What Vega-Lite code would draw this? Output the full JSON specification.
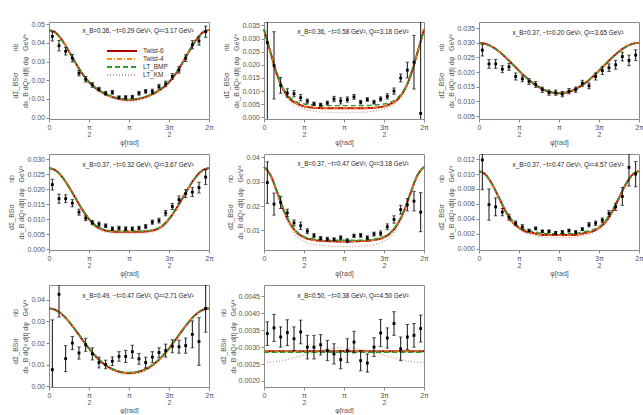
{
"$schema":"https://vega.github.io/schema/vega-lite/v6.json",
"background":"white",
"padding":{"left":7,"top":19,"right":0,"bottom":0},
"datasets":{
"curves":[
{"p":1,"x":0,"t6":0.04695,"bmp":0.0469,"km":0.04695},{"p":1,"x":0.2618,"t6":0.04544,"bmp":0.0452,"km":0.04543},{"p":1,"x":0.5236,"t6":0.04127,"bmp":0.041,"km":0.04122},{"p":1,"x":0.7854,"t6":0.03544,"bmp":0.0352,"km":0.03532},{"p":1,"x":1.0472,"t6":0.02918,"bmp":0.0292,"km":0.02898},{"p":1,"x":1.309,"t6":0.0235,"bmp":0.0237,"km":0.0232},{"p":1,"x":1.5708,"t6":0.019,"bmp":0.0193,"km":0.0186},{"p":1,"x":1.8326,"t6":0.01573,"bmp":0.016,"km":0.01523},{"p":1,"x":2.0944,"t6":0.01343,"bmp":0.0137,"km":0.01283},{"p":1,"x":2.3562,"t6":0.01176,"bmp":0.012,"km":0.01108},{"p":1,"x":2.618,"t6":0.01053,"bmp":0.0108,"km":0.00978},{"p":1,"x":2.8798,"t6":0.00973,"bmp":0.01,"km":0.00894},{"p":1,"x":3.1416,"t6":0.00945,"bmp":0.0097,"km":0.00865},{"p":1,"x":3.4034,"t6":0.00973,"bmp":0.01,"km":0.00894},{"p":1,"x":3.6652,"t6":0.01053,"bmp":0.0108,"km":0.00978},{"p":1,"x":3.927,"t6":0.01176,"bmp":0.012,"km":0.01108},{"p":1,"x":4.1888,"t6":0.01343,"bmp":0.0137,"km":0.01283},{"p":1,"x":4.4506,"t6":0.01573,"bmp":0.016,"km":0.01523},{"p":1,"x":4.7124,"t6":0.019,"bmp":0.0193,"km":0.0186},{"p":1,"x":4.9742,"t6":0.0235,"bmp":0.0237,"km":0.0232},{"p":1,"x":5.236,"t6":0.02918,"bmp":0.0292,"km":0.02898},{"p":1,"x":5.4978,"t6":0.03544,"bmp":0.0352,"km":0.03532},{"p":1,"x":5.7596,"t6":0.04127,"bmp":0.041,"km":0.04122},{"p":1,"x":6.0214,"t6":0.04544,"bmp":0.0452,"km":0.04543},{"p":1,"x":6.2832,"t6":0.04695,"bmp":0.0469,"km":0.04695},
{"p":2,"x":0,"t6":0.0335,"bmp":0.0335,"km":0.0335},{"p":2,"x":0.2618,"t6":0.0245,"bmp":0.0245,"km":0.0243},{"p":2,"x":0.5236,"t6":0.016,"bmp":0.0162,"km":0.0155},{"p":2,"x":0.7854,"t6":0.0102,"bmp":0.0106,"km":0.0095},{"p":2,"x":1.0472,"t6":0.0068,"bmp":0.0074,"km":0.006},{"p":2,"x":1.309,"t6":0.0052,"bmp":0.0058,"km":0.0042},{"p":2,"x":1.5708,"t6":0.0042,"bmp":0.0051,"km":0.0032},{"p":2,"x":1.8326,"t6":0.0038,"bmp":0.0048,"km":0.0026},{"p":2,"x":2.0944,"t6":0.0036,"bmp":0.0046,"km":0.0022},{"p":2,"x":2.3562,"t6":0.0035,"bmp":0.0045,"km":0.002},{"p":2,"x":2.618,"t6":0.0035,"bmp":0.0045,"km":0.0019},{"p":2,"x":2.8798,"t6":0.0035,"bmp":0.0045,"km":0.0019},{"p":2,"x":3.1416,"t6":0.0035,"bmp":0.0045,"km":0.0019},{"p":2,"x":3.4034,"t6":0.0035,"bmp":0.0045,"km":0.0019},{"p":2,"x":3.6652,"t6":0.0035,"bmp":0.0045,"km":0.0019},{"p":2,"x":3.927,"t6":0.0035,"bmp":0.0045,"km":0.002},{"p":2,"x":4.1888,"t6":0.0036,"bmp":0.0046,"km":0.0022},{"p":2,"x":4.4506,"t6":0.0038,"bmp":0.0048,"km":0.0026},{"p":2,"x":4.7124,"t6":0.0042,"bmp":0.0051,"km":0.0032},{"p":2,"x":4.9742,"t6":0.0052,"bmp":0.0058,"km":0.0042},{"p":2,"x":5.236,"t6":0.0068,"bmp":0.0074,"km":0.006},{"p":2,"x":5.4978,"t6":0.0102,"bmp":0.0106,"km":0.0095},{"p":2,"x":5.7596,"t6":0.016,"bmp":0.0162,"km":0.0155},{"p":2,"x":6.0214,"t6":0.0245,"bmp":0.0245,"km":0.0243},{"p":2,"x":6.2832,"t6":0.0335,"bmp":0.0335,"km":0.0335},
{"p":3,"x":0,"t6":0.03,"bmp":0.0299,"km":0.03},{"p":3,"x":0.2618,"t6":0.02965,"bmp":0.02955,"km":0.02964},{"p":3,"x":0.5236,"t6":0.02862,"bmp":0.02855,"km":0.02858},{"p":3,"x":0.7854,"t6":0.02703,"bmp":0.027,"km":0.02695},{"p":3,"x":1.0472,"t6":0.02503,"bmp":0.025,"km":0.0249},{"p":3,"x":1.309,"t6":0.02279,"bmp":0.0228,"km":0.0226},{"p":3,"x":1.5708,"t6":0.0205,"bmp":0.0205,"km":0.0203},{"p":3,"x":1.8326,"t6":0.01833,"bmp":0.01835,"km":0.01808},{"p":3,"x":2.0944,"t6":0.01643,"bmp":0.01645,"km":0.01613},{"p":3,"x":2.3562,"t6":0.01487,"bmp":0.0149,"km":0.01453},{"p":3,"x":2.618,"t6":0.01373,"bmp":0.01378,"km":0.01335},{"p":3,"x":2.8798,"t6":0.01303,"bmp":0.01308,"km":0.01263},{"p":3,"x":3.1416,"t6":0.0128,"bmp":0.01285,"km":0.0124},{"p":3,"x":3.4034,"t6":0.01303,"bmp":0.01308,"km":0.01263},{"p":3,"x":3.6652,"t6":0.01373,"bmp":0.01378,"km":0.01335},{"p":3,"x":3.927,"t6":0.01487,"bmp":0.0149,"km":0.01453},{"p":3,"x":4.1888,"t6":0.01643,"bmp":0.01645,"km":0.01613},{"p":3,"x":4.4506,"t6":0.01833,"bmp":0.01835,"km":0.01808},{"p":3,"x":4.7124,"t6":0.0205,"bmp":0.0205,"km":0.0203},{"p":3,"x":4.9742,"t6":0.02279,"bmp":0.0228,"km":0.0226},{"p":3,"x":5.236,"t6":0.02503,"bmp":0.025,"km":0.0249},{"p":3,"x":5.4978,"t6":0.02703,"bmp":0.027,"km":0.02695},{"p":3,"x":5.7596,"t6":0.02862,"bmp":0.02855,"km":0.02858},{"p":3,"x":6.0214,"t6":0.02965,"bmp":0.02955,"km":0.02964},{"p":3,"x":6.2832,"t6":0.03,"bmp":0.0299,"km":0.03},
{"p":4,"x":0,"t6":0.027,"bmp":0.0269,"km":0.027},{"p":4,"x":0.2618,"t6":0.02621,"bmp":0.0261,"km":0.0262},{"p":4,"x":0.5236,"t6":0.02398,"bmp":0.0239,"km":0.0239},{"p":4,"x":0.7854,"t6":0.0207,"bmp":0.0207,"km":0.0206},{"p":4,"x":1.0472,"t6":0.0169,"bmp":0.017,"km":0.0167},{"p":4,"x":1.309,"t6":0.01317,"bmp":0.0133,"km":0.0129},{"p":4,"x":1.5708,"t6":0.01,"bmp":0.0102,"km":0.0097},{"p":4,"x":1.8326,"t6":0.00769,"bmp":0.0079,"km":0.0073},{"p":4,"x":2.0944,"t6":0.0065,"bmp":0.0067,"km":0.006},{"p":4,"x":2.3562,"t6":0.006,"bmp":0.0062,"km":0.0055},{"p":4,"x":2.618,"t6":0.0058,"bmp":0.006,"km":0.0053},{"p":4,"x":2.8798,"t6":0.0058,"bmp":0.006,"km":0.0052},{"p":4,"x":3.1416,"t6":0.0058,"bmp":0.006,"km":0.0052},{"p":4,"x":3.4034,"t6":0.0058,"bmp":0.006,"km":0.0052},{"p":4,"x":3.6652,"t6":0.0058,"bmp":0.006,"km":0.0053},{"p":4,"x":3.927,"t6":0.006,"bmp":0.0062,"km":0.0055},{"p":4,"x":4.1888,"t6":0.0065,"bmp":0.0067,"km":0.006},{"p":4,"x":4.4506,"t6":0.00769,"bmp":0.0079,"km":0.0073},{"p":4,"x":4.7124,"t6":0.01,"bmp":0.0102,"km":0.0097},{"p":4,"x":4.9742,"t6":0.01317,"bmp":0.0133,"km":0.0129},{"p":4,"x":5.236,"t6":0.0169,"bmp":0.017,"km":0.0167},{"p":4,"x":5.4978,"t6":0.0207,"bmp":0.0207,"km":0.0206},{"p":4,"x":5.7596,"t6":0.02398,"bmp":0.0239,"km":0.0239},{"p":4,"x":6.0214,"t6":0.02621,"bmp":0.0261,"km":0.0262},{"p":4,"x":6.2832,"t6":0.027,"bmp":0.0269,"km":0.027},
{"p":5,"x":0,"t6":0.036,"bmp":0.036,"km":0.036},{"p":5,"x":0.2618,"t6":0.0325,"bmp":0.0326,"km":0.0323},{"p":5,"x":0.5236,"t6":0.0255,"bmp":0.0257,"km":0.025},{"p":5,"x":0.7854,"t6":0.018,"bmp":0.0183,"km":0.017},{"p":5,"x":1.0472,"t6":0.0125,"bmp":0.0128,"km":0.0112},{"p":5,"x":1.309,"t6":0.009,"bmp":0.0094,"km":0.0075},{"p":5,"x":1.5708,"t6":0.0072,"bmp":0.0075,"km":0.0056},{"p":5,"x":1.8326,"t6":0.0063,"bmp":0.0067,"km":0.0045},{"p":5,"x":2.0944,"t6":0.0059,"bmp":0.0063,"km":0.004},{"p":5,"x":2.3562,"t6":0.0057,"bmp":0.0061,"km":0.0037},{"p":5,"x":2.618,"t6":0.0056,"bmp":0.006,"km":0.0035},{"p":5,"x":2.8798,"t6":0.0055,"bmp":0.006,"km":0.0034},{"p":5,"x":3.1416,"t6":0.0055,"bmp":0.006,"km":0.0034},{"p":5,"x":3.4034,"t6":0.0055,"bmp":0.006,"km":0.0034},{"p":5,"x":3.6652,"t6":0.0056,"bmp":0.006,"km":0.0035},{"p":5,"x":3.927,"t6":0.0057,"bmp":0.0061,"km":0.0037},{"p":5,"x":4.1888,"t6":0.0059,"bmp":0.0063,"km":0.004},{"p":5,"x":4.4506,"t6":0.0063,"bmp":0.0067,"km":0.0045},{"p":5,"x":4.7124,"t6":0.0072,"bmp":0.0075,"km":0.0056},{"p":5,"x":4.9742,"t6":0.009,"bmp":0.0094,"km":0.0075},{"p":5,"x":5.236,"t6":0.0125,"bmp":0.0128,"km":0.0112},{"p":5,"x":5.4978,"t6":0.018,"bmp":0.0183,"km":0.017},{"p":5,"x":5.7596,"t6":0.0255,"bmp":0.0257,"km":0.025},{"p":5,"x":6.0214,"t6":0.0325,"bmp":0.0326,"km":0.0323},{"p":5,"x":6.2832,"t6":0.036,"bmp":0.036,"km":0.036},
{"p":6,"x":0,"t6":0.0104,"bmp":0.0104,"km":0.0104},{"p":6,"x":0.2618,"t6":0.0099,"bmp":0.0099,"km":0.0099},{"p":6,"x":0.5236,"t6":0.0086,"bmp":0.0086,"km":0.0085},{"p":6,"x":0.7854,"t6":0.0068,"bmp":0.0069,"km":0.0067},{"p":6,"x":1.0472,"t6":0.005,"bmp":0.0051,"km":0.0048},{"p":6,"x":1.309,"t6":0.0036,"bmp":0.0038,"km":0.0034},{"p":6,"x":1.5708,"t6":0.0028,"bmp":0.0029,"km":0.0026},{"p":6,"x":1.8326,"t6":0.0023,"bmp":0.0025,"km":0.0021},{"p":6,"x":2.0944,"t6":0.0021,"bmp":0.0023,"km":0.0018},{"p":6,"x":2.3562,"t6":0.0019,"bmp":0.0021,"km":0.0016},{"p":6,"x":2.618,"t6":0.0018,"bmp":0.002,"km":0.0015},{"p":6,"x":2.8798,"t6":0.0018,"bmp":0.002,"km":0.0015},{"p":6,"x":3.1416,"t6":0.0018,"bmp":0.002,"km":0.0015},{"p":6,"x":3.4034,"t6":0.0018,"bmp":0.002,"km":0.0015},{"p":6,"x":3.6652,"t6":0.0018,"bmp":0.002,"km":0.0015},{"p":6,"x":3.927,"t6":0.0019,"bmp":0.0021,"km":0.0016},{"p":6,"x":4.1888,"t6":0.0021,"bmp":0.0023,"km":0.0018},{"p":6,"x":4.4506,"t6":0.0023,"bmp":0.0025,"km":0.0021},{"p":6,"x":4.7124,"t6":0.0028,"bmp":0.0029,"km":0.0026},{"p":6,"x":4.9742,"t6":0.0036,"bmp":0.0038,"km":0.0034},{"p":6,"x":5.236,"t6":0.005,"bmp":0.0051,"km":0.0048},{"p":6,"x":5.4978,"t6":0.0068,"bmp":0.0069,"km":0.0067},{"p":6,"x":5.7596,"t6":0.0086,"bmp":0.0086,"km":0.0085},{"p":6,"x":6.0214,"t6":0.0099,"bmp":0.0099,"km":0.0099},{"p":6,"x":6.2832,"t6":0.0104,"bmp":0.0104,"km":0.0104},
{"p":7,"x":0,"t6":0.036,"bmp":0.0359,"km":0.036},{"p":7,"x":0.2618,"t6":0.03525,"bmp":0.0352,"km":0.03524},{"p":7,"x":0.5236,"t6":0.0331,"bmp":0.0331,"km":0.03305},{"p":7,"x":0.7854,"t6":0.02984,"bmp":0.0299,"km":0.02974},{"p":7,"x":1.0472,"t6":0.02585,"bmp":0.0259,"km":0.02568},{"p":7,"x":1.309,"t6":0.0216,"bmp":0.0217,"km":0.02134},{"p":7,"x":1.5708,"t6":0.0175,"bmp":0.0176,"km":0.0172},{"p":7,"x":1.8326,"t6":0.01389,"bmp":0.014,"km":0.01345},{"p":7,"x":2.0944,"t6":0.01095,"bmp":0.0111,"km":0.01043},{"p":7,"x":2.3562,"t6":0.00876,"bmp":0.0089,"km":0.00816},{"p":7,"x":2.618,"t6":0.0073,"bmp":0.0075,"km":0.00665},{"p":7,"x":2.8798,"t6":0.00647,"bmp":0.0066,"km":0.00578},{"p":7,"x":3.1416,"t6":0.0062,"bmp":0.0064,"km":0.0055},{"p":7,"x":3.4034,"t6":0.00647,"bmp":0.0066,"km":0.00578},{"p":7,"x":3.6652,"t6":0.0073,"bmp":0.0075,"km":0.00665},{"p":7,"x":3.927,"t6":0.00876,"bmp":0.0089,"km":0.00816},{"p":7,"x":4.1888,"t6":0.01095,"bmp":0.0111,"km":0.01043},{"p":7,"x":4.4506,"t6":0.01389,"bmp":0.014,"km":0.01345},{"p":7,"x":4.7124,"t6":0.0175,"bmp":0.0176,"km":0.0172},{"p":7,"x":4.9742,"t6":0.0216,"bmp":0.0217,"km":0.02134},{"p":7,"x":5.236,"t6":0.02585,"bmp":0.0259,"km":0.02568},{"p":7,"x":5.4978,"t6":0.02984,"bmp":0.0299,"km":0.02974},{"p":7,"x":5.7596,"t6":0.0331,"bmp":0.0331,"km":0.03305},{"p":7,"x":6.0214,"t6":0.03525,"bmp":0.0352,"km":0.03524},{"p":7,"x":6.2832,"t6":0.036,"bmp":0.0359,"km":0.036},
{"p":8,"x":0,"t6":0.00288,"bmp":0.00285,"km":0.00255},{"p":8,"x":0.2618,"t6":0.00288,"bmp":0.00285,"km":0.002557},{"p":8,"x":0.5236,"t6":0.00288,"bmp":0.00285,"km":0.002579},{"p":8,"x":0.7854,"t6":0.00288,"bmp":0.00285,"km":0.002613},{"p":8,"x":1.0472,"t6":0.00288,"bmp":0.00285,"km":0.002658},{"p":8,"x":1.309,"t6":0.00288,"bmp":0.00285,"km":0.002709},{"p":8,"x":1.5708,"t6":0.00288,"bmp":0.00285,"km":0.002765},{"p":8,"x":1.8326,"t6":0.00288,"bmp":0.00285,"km":0.002821},{"p":8,"x":2.0944,"t6":0.00288,"bmp":0.00285,"km":0.002873},{"p":8,"x":2.3562,"t6":0.00288,"bmp":0.00285,"km":0.002917},{"p":8,"x":2.618,"t6":0.00288,"bmp":0.00285,"km":0.002951},{"p":8,"x":2.8798,"t6":0.00288,"bmp":0.00285,"km":0.002973},{"p":8,"x":3.1416,"t6":0.00288,"bmp":0.00285,"km":0.00298},{"p":8,"x":3.4034,"t6":0.00288,"bmp":0.00285,"km":0.002973},{"p":8,"x":3.6652,"t6":0.00288,"bmp":0.00285,"km":0.002951},{"p":8,"x":3.927,"t6":0.00288,"bmp":0.00285,"km":0.002917},{"p":8,"x":4.1888,"t6":0.00288,"bmp":0.00285,"km":0.002873},{"p":8,"x":4.4506,"t6":0.00288,"bmp":0.00285,"km":0.002821},{"p":8,"x":4.7124,"t6":0.00288,"bmp":0.00285,"km":0.002765},{"p":8,"x":4.9742,"t6":0.00288,"bmp":0.00285,"km":0.002709},{"p":8,"x":5.236,"t6":0.00288,"bmp":0.00285,"km":0.002658},{"p":8,"x":5.4978,"t6":0.00288,"bmp":0.00285,"km":0.002613},{"p":8,"x":5.7596,"t6":0.00288,"bmp":0.00285,"km":0.002579},{"p":8,"x":6.0214,"t6":0.00288,"bmp":0.00285,"km":0.002557},{"p":8,"x":6.2832,"t6":0.00288,"bmp":0.00285,"km":0.00255}
],
"pts":[
{"p":1,"x":0.131,"v":0.0435,"e":0.0025},{"p":1,"x":0.393,"v":0.0385,"e":0.0028},{"p":1,"x":0.654,"v":0.0355,"e":0.002},{"p":1,"x":0.916,"v":0.0318,"e":0.002},{"p":1,"x":1.178,"v":0.0238,"e":0.0015},{"p":1,"x":1.44,"v":0.0205,"e":0.0015},{"p":1,"x":1.702,"v":0.0175,"e":0.0013},{"p":1,"x":1.963,"v":0.0152,"e":0.001},{"p":1,"x":2.225,"v":0.013,"e":0.001},{"p":1,"x":2.487,"v":0.0135,"e":0.001},{"p":1,"x":2.749,"v":0.0108,"e":0.0008},{"p":1,"x":3.011,"v":0.0108,"e":0.0009},{"p":1,"x":3.272,"v":0.011,"e":0.0009},{"p":1,"x":3.534,"v":0.013,"e":0.001},{"p":1,"x":3.796,"v":0.014,"e":0.001},{"p":1,"x":4.058,"v":0.014,"e":0.0012},{"p":1,"x":4.32,"v":0.0165,"e":0.0013},{"p":1,"x":4.581,"v":0.018,"e":0.0015},{"p":1,"x":4.843,"v":0.022,"e":0.0015},{"p":1,"x":5.105,"v":0.0255,"e":0.0017},{"p":1,"x":5.367,"v":0.0318,"e":0.0018},{"p":1,"x":5.629,"v":0.039,"e":0.0022},{"p":1,"x":5.89,"v":0.041,"e":0.0022},{"p":1,"x":6.152,"v":0.046,"e":0.003},
{"p":2,"x":0.131,"v":0.0285,"e":0.04},{"p":2,"x":0.393,"v":0.0198,"e":0.0128},{"p":2,"x":0.654,"v":0.0122,"e":0.003},{"p":2,"x":0.916,"v":0.0093,"e":0.0016},{"p":2,"x":1.178,"v":0.009,"e":0.0012},{"p":2,"x":1.44,"v":0.0075,"e":0.0012},{"p":2,"x":1.702,"v":0.0062,"e":0.0008},{"p":2,"x":1.963,"v":0.0052,"e":0.0006},{"p":2,"x":2.225,"v":0.0048,"e":0.0006},{"p":2,"x":2.487,"v":0.0055,"e":0.0007},{"p":2,"x":2.749,"v":0.007,"e":0.001},{"p":2,"x":3.011,"v":0.0063,"e":0.0012},{"p":2,"x":3.272,"v":0.0068,"e":0.001},{"p":2,"x":3.534,"v":0.0078,"e":0.0009},{"p":2,"x":3.796,"v":0.0058,"e":0.0007},{"p":2,"x":4.058,"v":0.0068,"e":0.0007},{"p":2,"x":4.32,"v":0.0058,"e":0.0007},{"p":2,"x":4.581,"v":0.007,"e":0.0008},{"p":2,"x":4.843,"v":0.008,"e":0.001},{"p":2,"x":5.105,"v":0.01,"e":0.0012},{"p":2,"x":5.367,"v":0.015,"e":0.0015},{"p":2,"x":5.629,"v":0.018,"e":0.003},{"p":2,"x":5.89,"v":0.021,"e":0.0102},{"p":2,"x":6.152,"v":0.0015,"e":0.04},
{"p":3,"x":0.131,"v":0.0275,"e":0.002},{"p":3,"x":0.393,"v":0.0228,"e":0.0015},{"p":3,"x":0.654,"v":0.0228,"e":0.0015},{"p":3,"x":0.916,"v":0.021,"e":0.0012},{"p":3,"x":1.178,"v":0.0218,"e":0.0012},{"p":3,"x":1.44,"v":0.0185,"e":0.0012},{"p":3,"x":1.702,"v":0.0177,"e":0.001},{"p":3,"x":1.963,"v":0.0168,"e":0.001},{"p":3,"x":2.225,"v":0.0158,"e":0.001},{"p":3,"x":2.487,"v":0.014,"e":0.0009},{"p":3,"x":2.749,"v":0.013,"e":0.0009},{"p":3,"x":3.011,"v":0.013,"e":0.0009},{"p":3,"x":3.272,"v":0.0125,"e":0.0009},{"p":3,"x":3.534,"v":0.0135,"e":0.0009},{"p":3,"x":3.796,"v":0.014,"e":0.0009},{"p":3,"x":4.058,"v":0.0162,"e":0.001},{"p":3,"x":4.32,"v":0.0153,"e":0.001},{"p":3,"x":4.581,"v":0.0185,"e":0.0012},{"p":3,"x":4.843,"v":0.0205,"e":0.0013},{"p":3,"x":5.105,"v":0.0215,"e":0.0013},{"p":3,"x":5.367,"v":0.0225,"e":0.0015},{"p":3,"x":5.629,"v":0.0253,"e":0.0015},{"p":3,"x":5.89,"v":0.024,"e":0.0018},{"p":3,"x":6.152,"v":0.0258,"e":0.0018},
{"p":4,"x":0.131,"v":0.0215,"e":0.0018},{"p":4,"x":0.393,"v":0.0168,"e":0.0015},{"p":4,"x":0.654,"v":0.0168,"e":0.0013},{"p":4,"x":0.916,"v":0.0153,"e":0.0012},{"p":4,"x":1.178,"v":0.0123,"e":0.001},{"p":4,"x":1.44,"v":0.0103,"e":0.0008},{"p":4,"x":1.702,"v":0.0088,"e":0.0007},{"p":4,"x":1.963,"v":0.0083,"e":0.0007},{"p":4,"x":2.225,"v":0.0078,"e":0.0006},{"p":4,"x":2.487,"v":0.0068,"e":0.0006},{"p":4,"x":2.749,"v":0.007,"e":0.0006},{"p":4,"x":3.011,"v":0.0068,"e":0.0006},{"p":4,"x":3.272,"v":0.0068,"e":0.0006},{"p":4,"x":3.534,"v":0.007,"e":0.0006},{"p":4,"x":3.796,"v":0.0075,"e":0.0007},{"p":4,"x":4.058,"v":0.009,"e":0.0007},{"p":4,"x":4.32,"v":0.0095,"e":0.0008},{"p":4,"x":4.581,"v":0.012,"e":0.0009},{"p":4,"x":4.843,"v":0.0142,"e":0.001},{"p":4,"x":5.105,"v":0.0165,"e":0.0012},{"p":4,"x":5.367,"v":0.0185,"e":0.0013},{"p":4,"x":5.629,"v":0.019,"e":0.0015},{"p":4,"x":5.89,"v":0.0205,"e":0.0018},{"p":4,"x":6.152,"v":0.024,"e":0.0025},
{"p":5,"x":0.131,"v":0.0296,"e":0.0085},{"p":5,"x":0.393,"v":0.0208,"e":0.0045},{"p":5,"x":0.654,"v":0.0215,"e":0.0025},{"p":5,"x":0.916,"v":0.0172,"e":0.0015},{"p":5,"x":1.178,"v":0.0131,"e":0.0012},{"p":5,"x":1.44,"v":0.0119,"e":0.0015},{"p":5,"x":1.702,"v":0.0097,"e":0.001},{"p":5,"x":1.963,"v":0.0079,"e":0.0008},{"p":5,"x":2.225,"v":0.0068,"e":0.0007},{"p":5,"x":2.487,"v":0.0065,"e":0.0007},{"p":5,"x":2.749,"v":0.0063,"e":0.0007},{"p":5,"x":3.011,"v":0.007,"e":0.0008},{"p":5,"x":3.272,"v":0.0058,"e":0.0008},{"p":5,"x":3.534,"v":0.0078,"e":0.0007},{"p":5,"x":3.796,"v":0.008,"e":0.0008},{"p":5,"x":4.058,"v":0.007,"e":0.0008},{"p":5,"x":4.32,"v":0.0085,"e":0.0008},{"p":5,"x":4.581,"v":0.0088,"e":0.001},{"p":5,"x":4.843,"v":0.0115,"e":0.0012},{"p":5,"x":5.105,"v":0.0145,"e":0.0015},{"p":5,"x":5.367,"v":0.0185,"e":0.0018},{"p":5,"x":5.629,"v":0.0205,"e":0.0025},{"p":5,"x":5.89,"v":0.022,"e":0.004},{"p":5,"x":6.152,"v":0.0175,"e":0.008},
{"p":6,"x":0.131,"v":0.0119,"e":0.004},{"p":6,"x":0.393,"v":0.0059,"e":0.0021},{"p":6,"x":0.654,"v":0.0056,"e":0.0012},{"p":6,"x":0.916,"v":0.0049,"e":0.0005},{"p":6,"x":1.178,"v":0.0042,"e":0.0004},{"p":6,"x":1.44,"v":0.0034,"e":0.0003},{"p":6,"x":1.702,"v":0.0029,"e":0.0003},{"p":6,"x":1.963,"v":0.0024,"e":0.0002},{"p":6,"x":2.225,"v":0.0027,"e":0.0002},{"p":6,"x":2.487,"v":0.0023,"e":0.0002},{"p":6,"x":2.749,"v":0.0023,"e":0.0002},{"p":6,"x":3.011,"v":0.0021,"e":0.0002},{"p":6,"x":3.272,"v":0.0022,"e":0.0002},{"p":6,"x":3.534,"v":0.0024,"e":0.0002},{"p":6,"x":3.796,"v":0.0022,"e":0.0002},{"p":6,"x":4.058,"v":0.0026,"e":0.0002},{"p":6,"x":4.32,"v":0.0032,"e":0.0003},{"p":6,"x":4.581,"v":0.0034,"e":0.0003},{"p":6,"x":4.843,"v":0.0038,"e":0.0003},{"p":6,"x":5.105,"v":0.0047,"e":0.0004},{"p":6,"x":5.367,"v":0.0056,"e":0.0005},{"p":6,"x":5.629,"v":0.007,"e":0.0012},{"p":6,"x":5.89,"v":0.0109,"e":0.0025},{"p":6,"x":6.152,"v":0.01,"e":0.0017},
{"p":7,"x":0.131,"v":0.0077,"e":0.023},{"p":7,"x":0.393,"v":0.0425,"e":0.0105},{"p":7,"x":0.654,"v":0.0128,"e":0.006},{"p":7,"x":0.916,"v":0.02,"e":0.003},{"p":7,"x":1.178,"v":0.0154,"e":0.0028},{"p":7,"x":1.44,"v":0.0192,"e":0.003},{"p":7,"x":1.702,"v":0.015,"e":0.0028},{"p":7,"x":1.963,"v":0.011,"e":0.0025},{"p":7,"x":2.225,"v":0.0101,"e":0.002},{"p":7,"x":2.487,"v":0.0116,"e":0.002},{"p":7,"x":2.749,"v":0.0138,"e":0.0022},{"p":7,"x":3.011,"v":0.0138,"e":0.0028},{"p":7,"x":3.272,"v":0.016,"e":0.003},{"p":7,"x":3.534,"v":0.0127,"e":0.0025},{"p":7,"x":3.796,"v":0.011,"e":0.0025},{"p":7,"x":4.058,"v":0.0135,"e":0.0025},{"p":7,"x":4.32,"v":0.0156,"e":0.0022},{"p":7,"x":4.581,"v":0.0165,"e":0.003},{"p":7,"x":4.843,"v":0.0185,"e":0.003},{"p":7,"x":5.105,"v":0.0183,"e":0.003},{"p":7,"x":5.367,"v":0.0188,"e":0.0035},{"p":7,"x":5.629,"v":0.024,"e":0.0062},{"p":7,"x":5.89,"v":0.0207,"e":0.011},{"p":7,"x":6.152,"v":0.036,"e":0.011},
{"p":8,"x":0.131,"v":0.0034,"e":0.00035},{"p":8,"x":0.393,"v":0.00357,"e":0.0004},{"p":8,"x":0.654,"v":0.0033,"e":0.0003},{"p":8,"x":0.916,"v":0.00343,"e":0.00038},{"p":8,"x":1.178,"v":0.00325,"e":0.00035},{"p":8,"x":1.44,"v":0.00345,"e":0.00035},{"p":8,"x":1.702,"v":0.003,"e":0.00035},{"p":8,"x":1.963,"v":0.003,"e":0.00035},{"p":8,"x":2.225,"v":0.00307,"e":0.0003},{"p":8,"x":2.487,"v":0.0029,"e":0.0003},{"p":8,"x":2.749,"v":0.0028,"e":0.0003},{"p":8,"x":3.011,"v":0.00263,"e":0.00027},{"p":8,"x":3.272,"v":0.0029,"e":0.00035},{"p":8,"x":3.534,"v":0.00315,"e":0.00032},{"p":8,"x":3.796,"v":0.0026,"e":0.0003},{"p":8,"x":4.058,"v":0.00253,"e":0.00027},{"p":8,"x":4.32,"v":0.003,"e":0.00028},{"p":8,"x":4.581,"v":0.00342,"e":0.0004},{"p":8,"x":4.843,"v":0.00327,"e":0.0003},{"p":8,"x":5.105,"v":0.0037,"e":0.00035},{"p":8,"x":5.367,"v":0.00295,"e":0.00035},{"p":8,"x":5.629,"v":0.0033,"e":0.00037},{"p":8,"x":5.89,"v":0.00335,"e":0.00035},{"p":8,"x":6.152,"v":0.00355,"e":0.0004}
]
},
"columns":3,
"spacing":{"row":35,"column":55},
"bounds":"flush",
"concat":[
{"width":160,"height":97,"title":"x_B=0.36, −t=0.29 GeV², Q²=3.17 GeV²",
"encoding":{"x":{"field":"x","type":"quantitative","scale":{"domain":[0,6.2832]},"axis":{"values":[0,1.5708,3.1416,4.7124,6.2832],"labelExpr":"datum.value<0.1?'0':datum.value<2?['π','2']:datum.value<4?'π':datum.value<5?['3π','2']:'2π'","title":"φ[rad]","labelFlush":false,"labelOverlap":false}}},
"layer":[
{"data":{"name":"curves"},"transform":[{"filter":"datum.p==1"}],"mark":{"type":"line","interpolate":"monotone","strokeWidth":1.3},"encoding":{"y":{"field":"km","type":"quantitative","scale":{"domain":[-0.0008,0.0512]},"axis":{"values":[0,0.01,0.02,0.03,0.04,0.05],"tickCount":20,"format":".2f","labelOverlap":false,"title":["dΣ_BSσ\u00a0\u00a0\u00a0\u00a0\u00a0\u00a0\u00a0\u00a0\u00a0\u00a0\u00a0nb","dx_B dQ² d|t| dφ\u00a0\u00a0\u00a0GeV⁴"]}},"color":{"datum":"LT_KM","scale":{"domain":["Twist-6","Twist-4","LT_BMP","LT_KM"],"range":["#b30000","#ff8a1c","#2e9b2e","#caa08a"]},"legend":{"title":null,"orient":"none","legendX":69,"legendY":25,"symbolType":"M-5,0H5","symbolSize":36,"symbolStrokeWidth":1.8,"labelFont":"Liberation Sans","labelFontSize":6.5,"labelColor":"#333","labelOffset":17,"rowPadding":0,"padding":0}},"strokeDash":{"datum":"LT_KM","scale":{"domain":["Twist-6","Twist-4","LT_BMP","LT_KM"],"range":[[1,0],[5,2,1,2],[5,3],[1,2]]},"legend":{"title":null,"orient":"none","legendX":69,"legendY":25,"symbolType":"M-5,0H5","symbolSize":36}}}},
{"data":{"name":"curves"},"transform":[{"filter":"datum.p==1"}],"mark":{"type":"line","interpolate":"monotone","strokeWidth":2},"encoding":{"y":{"field":"t6","type":"quantitative","scale":{"domain":[-0.0008,0.0512]},"title":""},"color":{"datum":"Twist-6","scale":{"domain":["Twist-6","Twist-4","LT_BMP","LT_KM"]}},"strokeDash":{"datum":"Twist-6","scale":{"domain":["Twist-6","Twist-4","LT_BMP","LT_KM"]}}}},
{"data":{"name":"curves"},"transform":[{"filter":"datum.p==1"}],"mark":{"type":"line","interpolate":"monotone","strokeWidth":1.3},"encoding":{"y":{"field":"t6","type":"quantitative","scale":{"domain":[-0.0008,0.0512]},"title":""},"color":{"datum":"Twist-4","scale":{"domain":["Twist-6","Twist-4","LT_BMP","LT_KM"]}},"strokeDash":{"datum":"Twist-4","scale":{"domain":["Twist-6","Twist-4","LT_BMP","LT_KM"]}}}},
{"data":{"name":"curves"},"transform":[{"filter":"datum.p==1"}],"mark":{"type":"line","interpolate":"monotone","strokeWidth":1.4},"encoding":{"y":{"field":"bmp","type":"quantitative","scale":{"domain":[-0.0008,0.0512]},"title":""},"color":{"datum":"LT_BMP","scale":{"domain":["Twist-6","Twist-4","LT_BMP","LT_KM"]}},"strokeDash":{"datum":"LT_BMP","scale":{"domain":["Twist-6","Twist-4","LT_BMP","LT_KM"]}}}},
{"data":{"name":"pts"},"transform":[{"filter":"datum.p==1"}],"mark":{"type":"errorbar","ticks":{"size":3.5},"color":"#111","thickness":1,"clip":true},"encoding":{"y":{"field":"v","type":"quantitative","scale":{"domain":[-0.0008,0.0512]},"title":""},"yError":{"field":"e"}}},
{"data":{"name":"pts"},"transform":[{"filter":"datum.p==1"}],"mark":{"type":"square","color":"#000","size":8,"opacity":1},"encoding":{"y":{"field":"v","type":"quantitative","scale":{"domain":[-0.0008,0.0512]},"title":""}}}
]},
{"width":160,"height":97,"title":"x_B=0.36, −t=0.58 GeV², Q²=3.18 GeV²",
"encoding":{"x":{"field":"x","type":"quantitative","scale":{"domain":[0,6.2832]},"axis":{"values":[0,1.5708,3.1416,4.7124,6.2832],"labelExpr":"datum.value<0.1?'0':datum.value<2?['π','2']:datum.value<4?'π':datum.value<5?['3π','2']:'2π'","title":"φ[rad]","labelFlush":false,"labelOverlap":false}}},
"layer":[
{"data":{"name":"curves"},"transform":[{"filter":"datum.p==2"}],"mark":{"type":"line","interpolate":"monotone","strokeWidth":1.3},"encoding":{"y":{"field":"km","type":"quantitative","scale":{"domain":[-0.0006,0.0363]},"axis":{"values":[0,0.005,0.01,0.015,0.02,0.025,0.03,0.035],"tickCount":20,"format":".3f","labelOverlap":false,"title":["dΣ_BSσ\u00a0\u00a0\u00a0\u00a0\u00a0\u00a0\u00a0\u00a0\u00a0\u00a0\u00a0nb","dx_B dQ² d|t| dφ\u00a0\u00a0\u00a0GeV⁴"]}},"color":{"datum":"LT_KM","scale":{"domain":["Twist-6","Twist-4","LT_BMP","LT_KM"]}},"strokeDash":{"datum":"LT_KM","scale":{"domain":["Twist-6","Twist-4","LT_BMP","LT_KM"]}}}},
{"data":{"name":"curves"},"transform":[{"filter":"datum.p==2"}],"mark":{"type":"line","interpolate":"monotone","strokeWidth":2},"encoding":{"y":{"field":"t6","type":"quantitative","scale":{"domain":[-0.0006,0.0363]},"title":""},"color":{"datum":"Twist-6","scale":{"domain":["Twist-6","Twist-4","LT_BMP","LT_KM"]}},"strokeDash":{"datum":"Twist-6","scale":{"domain":["Twist-6","Twist-4","LT_BMP","LT_KM"]}}}},
{"data":{"name":"curves"},"transform":[{"filter":"datum.p==2"}],"mark":{"type":"line","interpolate":"monotone","strokeWidth":1.3},"encoding":{"y":{"field":"t6","type":"quantitative","scale":{"domain":[-0.0006,0.0363]},"title":""},"color":{"datum":"Twist-4","scale":{"domain":["Twist-6","Twist-4","LT_BMP","LT_KM"]}},"strokeDash":{"datum":"Twist-4","scale":{"domain":["Twist-6","Twist-4","LT_BMP","LT_KM"]}}}},
{"data":{"name":"curves"},"transform":[{"filter":"datum.p==2"}],"mark":{"type":"line","interpolate":"monotone","strokeWidth":1.4},"encoding":{"y":{"field":"bmp","type":"quantitative","scale":{"domain":[-0.0006,0.0363]},"title":""},"color":{"datum":"LT_BMP","scale":{"domain":["Twist-6","Twist-4","LT_BMP","LT_KM"]}},"strokeDash":{"datum":"LT_BMP","scale":{"domain":["Twist-6","Twist-4","LT_BMP","LT_KM"]}}}},
{"data":{"name":"pts"},"transform":[{"filter":"datum.p==2"}],"mark":{"type":"errorbar","ticks":{"size":3.5},"color":"#111","thickness":1,"clip":true},"encoding":{"y":{"field":"v","type":"quantitative","scale":{"domain":[-0.0006,0.0363]},"title":""},"yError":{"field":"e"}}},
{"data":{"name":"pts"},"transform":[{"filter":"datum.p==2"}],"mark":{"type":"square","color":"#000","size":8,"opacity":1},"encoding":{"y":{"field":"v","type":"quantitative","scale":{"domain":[-0.0006,0.0363]},"title":""}}}
]},
{"width":160,"height":97,"title":"x_B=0.37, −t=0.20 GeV², Q²=3.65 GeV²",
"encoding":{"x":{"field":"x","type":"quantitative","scale":{"domain":[0,6.2832]},"axis":{"values":[0,1.5708,3.1416,4.7124,6.2832],"labelExpr":"datum.value<0.1?'0':datum.value<2?['π','2']:datum.value<4?'π':datum.value<5?['3π','2']:'2π'","title":"φ[rad]","labelFlush":false,"labelOverlap":false}}},
"layer":[
{"data":{"name":"curves"},"transform":[{"filter":"datum.p==3"}],"mark":{"type":"line","interpolate":"monotone","strokeWidth":1.3},"encoding":{"y":{"field":"km","type":"quantitative","scale":{"domain":[0.004,0.0371]},"axis":{"values":[0.005,0.01,0.015,0.02,0.025,0.03,0.035],"tickCount":20,"format":".3f","labelOverlap":false,"title":["dΣ_BSσ\u00a0\u00a0\u00a0\u00a0\u00a0\u00a0\u00a0\u00a0\u00a0\u00a0\u00a0nb","dx_B dQ² d|t| dφ\u00a0\u00a0\u00a0GeV⁴"]}},"color":{"datum":"LT_KM","scale":{"domain":["Twist-6","Twist-4","LT_BMP","LT_KM"]}},"strokeDash":{"datum":"LT_KM","scale":{"domain":["Twist-6","Twist-4","LT_BMP","LT_KM"]}}}},
{"data":{"name":"curves"},"transform":[{"filter":"datum.p==3"}],"mark":{"type":"line","interpolate":"monotone","strokeWidth":2},"encoding":{"y":{"field":"t6","type":"quantitative","scale":{"domain":[0.004,0.0371]},"title":""},"color":{"datum":"Twist-6","scale":{"domain":["Twist-6","Twist-4","LT_BMP","LT_KM"]}},"strokeDash":{"datum":"Twist-6","scale":{"domain":["Twist-6","Twist-4","LT_BMP","LT_KM"]}}}},
{"data":{"name":"curves"},"transform":[{"filter":"datum.p==3"}],"mark":{"type":"line","interpolate":"monotone","strokeWidth":1.3},"encoding":{"y":{"field":"t6","type":"quantitative","scale":{"domain":[0.004,0.0371]},"title":""},"color":{"datum":"Twist-4","scale":{"domain":["Twist-6","Twist-4","LT_BMP","LT_KM"]}},"strokeDash":{"datum":"Twist-4","scale":{"domain":["Twist-6","Twist-4","LT_BMP","LT_KM"]}}}},
{"data":{"name":"curves"},"transform":[{"filter":"datum.p==3"}],"mark":{"type":"line","interpolate":"monotone","strokeWidth":1.4},"encoding":{"y":{"field":"bmp","type":"quantitative","scale":{"domain":[0.004,0.0371]},"title":""},"color":{"datum":"LT_BMP","scale":{"domain":["Twist-6","Twist-4","LT_BMP","LT_KM"]}},"strokeDash":{"datum":"LT_BMP","scale":{"domain":["Twist-6","Twist-4","LT_BMP","LT_KM"]}}}},
{"data":{"name":"pts"},"transform":[{"filter":"datum.p==3"}],"mark":{"type":"errorbar","ticks":{"size":3.5},"color":"#111","thickness":1,"clip":true},"encoding":{"y":{"field":"v","type":"quantitative","scale":{"domain":[0.004,0.0371]},"title":""},"yError":{"field":"e"}}},
{"data":{"name":"pts"},"transform":[{"filter":"datum.p==3"}],"mark":{"type":"square","color":"#000","size":8,"opacity":1},"encoding":{"y":{"field":"v","type":"quantitative","scale":{"domain":[0.004,0.0371]},"title":""}}}
]},
{"width":160,"height":96,"title":"x_B=0.37, −t=0.32 GeV², Q²=3.67 GeV²",
"encoding":{"x":{"field":"x","type":"quantitative","scale":{"domain":[0,6.2832]},"axis":{"values":[0,1.5708,3.1416,4.7124,6.2832],"labelExpr":"datum.value<0.1?'0':datum.value<2?['π','2']:datum.value<4?'π':datum.value<5?['3π','2']:'2π'","title":"φ[rad]","labelFlush":false,"labelOverlap":false}}},
"layer":[
{"data":{"name":"curves"},"transform":[{"filter":"datum.p==4"}],"mark":{"type":"line","interpolate":"monotone","strokeWidth":1.3},"encoding":{"y":{"field":"km","type":"quantitative","scale":{"domain":[-0.0003,0.0317]},"axis":{"values":[0,0.005,0.01,0.015,0.02,0.025,0.03],"tickCount":20,"format":".3f","labelOverlap":false,"title":["dΣ_BSσ\u00a0\u00a0\u00a0\u00a0\u00a0\u00a0\u00a0\u00a0\u00a0\u00a0\u00a0nb","dx_B dQ² d|t| dφ\u00a0\u00a0\u00a0GeV⁴"]}},"color":{"datum":"LT_KM","scale":{"domain":["Twist-6","Twist-4","LT_BMP","LT_KM"]}},"strokeDash":{"datum":"LT_KM","scale":{"domain":["Twist-6","Twist-4","LT_BMP","LT_KM"]}}}},
{"data":{"name":"curves"},"transform":[{"filter":"datum.p==4"}],"mark":{"type":"line","interpolate":"monotone","strokeWidth":2},"encoding":{"y":{"field":"t6","type":"quantitative","scale":{"domain":[-0.0003,0.0317]},"title":""},"color":{"datum":"Twist-6","scale":{"domain":["Twist-6","Twist-4","LT_BMP","LT_KM"]}},"strokeDash":{"datum":"Twist-6","scale":{"domain":["Twist-6","Twist-4","LT_BMP","LT_KM"]}}}},
{"data":{"name":"curves"},"transform":[{"filter":"datum.p==4"}],"mark":{"type":"line","interpolate":"monotone","strokeWidth":1.3},"encoding":{"y":{"field":"t6","type":"quantitative","scale":{"domain":[-0.0003,0.0317]},"title":""},"color":{"datum":"Twist-4","scale":{"domain":["Twist-6","Twist-4","LT_BMP","LT_KM"]}},"strokeDash":{"datum":"Twist-4","scale":{"domain":["Twist-6","Twist-4","LT_BMP","LT_KM"]}}}},
{"data":{"name":"curves"},"transform":[{"filter":"datum.p==4"}],"mark":{"type":"line","interpolate":"monotone","strokeWidth":1.4},"encoding":{"y":{"field":"bmp","type":"quantitative","scale":{"domain":[-0.0003,0.0317]},"title":""},"color":{"datum":"LT_BMP","scale":{"domain":["Twist-6","Twist-4","LT_BMP","LT_KM"]}},"strokeDash":{"datum":"LT_BMP","scale":{"domain":["Twist-6","Twist-4","LT_BMP","LT_KM"]}}}},
{"data":{"name":"pts"},"transform":[{"filter":"datum.p==4"}],"mark":{"type":"errorbar","ticks":{"size":3.5},"color":"#111","thickness":1,"clip":true},"encoding":{"y":{"field":"v","type":"quantitative","scale":{"domain":[-0.0003,0.0317]},"title":""},"yError":{"field":"e"}}},
{"data":{"name":"pts"},"transform":[{"filter":"datum.p==4"}],"mark":{"type":"square","color":"#000","size":8,"opacity":1},"encoding":{"y":{"field":"v","type":"quantitative","scale":{"domain":[-0.0003,0.0317]},"title":""}}}
]},
{"width":160,"height":96,"title":"x_B=0.37, −t=0.47 GeV², Q²=3.18 GeV²",
"encoding":{"x":{"field":"x","type":"quantitative","scale":{"domain":[0,6.2832]},"axis":{"values":[0,1.5708,3.1416,4.7124,6.2832],"labelExpr":"datum.value<0.1?'0':datum.value<2?['π','2']:datum.value<4?'π':datum.value<5?['3π','2']:'2π'","title":"φ[rad]","labelFlush":false,"labelOverlap":false}}},
"layer":[
{"data":{"name":"curves"},"transform":[{"filter":"datum.p==5"}],"mark":{"type":"line","interpolate":"monotone","strokeWidth":1.3},"encoding":{"y":{"field":"km","type":"quantitative","scale":{"domain":[0.002,0.0413]},"axis":{"values":[0.01,0.02,0.03,0.04],"tickCount":20,"format":".2f","labelOverlap":false,"title":["dΣ_BSσ\u00a0\u00a0\u00a0\u00a0\u00a0\u00a0\u00a0\u00a0\u00a0\u00a0\u00a0nb","dx_B dQ² d|t| dφ\u00a0\u00a0\u00a0GeV⁴"]}},"color":{"datum":"LT_KM","scale":{"domain":["Twist-6","Twist-4","LT_BMP","LT_KM"]}},"strokeDash":{"datum":"LT_KM","scale":{"domain":["Twist-6","Twist-4","LT_BMP","LT_KM"]}}}},
{"data":{"name":"curves"},"transform":[{"filter":"datum.p==5"}],"mark":{"type":"line","interpolate":"monotone","strokeWidth":2},"encoding":{"y":{"field":"t6","type":"quantitative","scale":{"domain":[0.002,0.0413]},"title":""},"color":{"datum":"Twist-6","scale":{"domain":["Twist-6","Twist-4","LT_BMP","LT_KM"]}},"strokeDash":{"datum":"Twist-6","scale":{"domain":["Twist-6","Twist-4","LT_BMP","LT_KM"]}}}},
{"data":{"name":"curves"},"transform":[{"filter":"datum.p==5"}],"mark":{"type":"line","interpolate":"monotone","strokeWidth":1.3},"encoding":{"y":{"field":"t6","type":"quantitative","scale":{"domain":[0.002,0.0413]},"title":""},"color":{"datum":"Twist-4","scale":{"domain":["Twist-6","Twist-4","LT_BMP","LT_KM"]}},"strokeDash":{"datum":"Twist-4","scale":{"domain":["Twist-6","Twist-4","LT_BMP","LT_KM"]}}}},
{"data":{"name":"curves"},"transform":[{"filter":"datum.p==5"}],"mark":{"type":"line","interpolate":"monotone","strokeWidth":1.4},"encoding":{"y":{"field":"bmp","type":"quantitative","scale":{"domain":[0.002,0.0413]},"title":""},"color":{"datum":"LT_BMP","scale":{"domain":["Twist-6","Twist-4","LT_BMP","LT_KM"]}},"strokeDash":{"datum":"LT_BMP","scale":{"domain":["Twist-6","Twist-4","LT_BMP","LT_KM"]}}}},
{"data":{"name":"pts"},"transform":[{"filter":"datum.p==5"}],"mark":{"type":"errorbar","ticks":{"size":3.5},"color":"#111","thickness":1,"clip":true},"encoding":{"y":{"field":"v","type":"quantitative","scale":{"domain":[0.002,0.0413]},"title":""},"yError":{"field":"e"}}},
{"data":{"name":"pts"},"transform":[{"filter":"datum.p==5"}],"mark":{"type":"square","color":"#000","size":8,"opacity":1},"encoding":{"y":{"field":"v","type":"quantitative","scale":{"domain":[0.002,0.0413]},"title":""}}}
]},
{"width":160,"height":96,"title":"x_B=0.37, −t=0.47 GeV², Q²=4.57 GeV²",
"encoding":{"x":{"field":"x","type":"quantitative","scale":{"domain":[0,6.2832]},"axis":{"values":[0,1.5708,3.1416,4.7124,6.2832],"labelExpr":"datum.value<0.1?'0':datum.value<2?['π','2']:datum.value<4?'π':datum.value<5?['3π','2']:'2π'","title":"φ[rad]","labelFlush":false,"labelOverlap":false}}},
"layer":[
{"data":{"name":"curves"},"transform":[{"filter":"datum.p==6"}],"mark":{"type":"line","interpolate":"monotone","strokeWidth":1.3},"encoding":{"y":{"field":"km","type":"quantitative","scale":{"domain":[-0.0002,0.0127]},"axis":{"values":[0,0.002,0.004,0.006,0.008,0.01,0.012],"tickCount":20,"format":".3f","labelOverlap":false,"title":["dΣ_BSσ\u00a0\u00a0\u00a0\u00a0\u00a0\u00a0\u00a0\u00a0\u00a0\u00a0\u00a0nb","dx_B dQ² d|t| dφ\u00a0\u00a0\u00a0GeV⁴"]}},"color":{"datum":"LT_KM","scale":{"domain":["Twist-6","Twist-4","LT_BMP","LT_KM"]}},"strokeDash":{"datum":"LT_KM","scale":{"domain":["Twist-6","Twist-4","LT_BMP","LT_KM"]}}}},
{"data":{"name":"curves"},"transform":[{"filter":"datum.p==6"}],"mark":{"type":"line","interpolate":"monotone","strokeWidth":2},"encoding":{"y":{"field":"t6","type":"quantitative","scale":{"domain":[-0.0002,0.0127]},"title":""},"color":{"datum":"Twist-6","scale":{"domain":["Twist-6","Twist-4","LT_BMP","LT_KM"]}},"strokeDash":{"datum":"Twist-6","scale":{"domain":["Twist-6","Twist-4","LT_BMP","LT_KM"]}}}},
{"data":{"name":"curves"},"transform":[{"filter":"datum.p==6"}],"mark":{"type":"line","interpolate":"monotone","strokeWidth":1.3},"encoding":{"y":{"field":"t6","type":"quantitative","scale":{"domain":[-0.0002,0.0127]},"title":""},"color":{"datum":"Twist-4","scale":{"domain":["Twist-6","Twist-4","LT_BMP","LT_KM"]}},"strokeDash":{"datum":"Twist-4","scale":{"domain":["Twist-6","Twist-4","LT_BMP","LT_KM"]}}}},
{"data":{"name":"curves"},"transform":[{"filter":"datum.p==6"}],"mark":{"type":"line","interpolate":"monotone","strokeWidth":1.4},"encoding":{"y":{"field":"bmp","type":"quantitative","scale":{"domain":[-0.0002,0.0127]},"title":""},"color":{"datum":"LT_BMP","scale":{"domain":["Twist-6","Twist-4","LT_BMP","LT_KM"]}},"strokeDash":{"datum":"LT_BMP","scale":{"domain":["Twist-6","Twist-4","LT_BMP","LT_KM"]}}}},
{"data":{"name":"pts"},"transform":[{"filter":"datum.p==6"}],"mark":{"type":"errorbar","ticks":{"size":3.5},"color":"#111","thickness":1,"clip":true},"encoding":{"y":{"field":"v","type":"quantitative","scale":{"domain":[-0.0002,0.0127]},"title":""},"yError":{"field":"e"}}},
{"data":{"name":"pts"},"transform":[{"filter":"datum.p==6"}],"mark":{"type":"square","color":"#000","size":8,"opacity":1},"encoding":{"y":{"field":"v","type":"quantitative","scale":{"domain":[-0.0002,0.0127]},"title":""}}}
]},
{"width":160,"height":102,"title":"x_B=0.49, −t=0.47 GeV², Q²=2.71 GeV²",
"encoding":{"x":{"field":"x","type":"quantitative","scale":{"domain":[0,6.2832]},"axis":{"values":[0,1.5708,3.1416,4.7124,6.2832],"labelExpr":"datum.value<0.1?'0':datum.value<2?['π','2']:datum.value<4?'π':datum.value<5?['3π','2']:'2π'","title":"φ[rad]","labelFlush":false,"labelOverlap":false}}},
"layer":[
{"data":{"name":"curves"},"transform":[{"filter":"datum.p==7"}],"mark":{"type":"line","interpolate":"monotone","strokeWidth":1.3},"encoding":{"y":{"field":"km","type":"quantitative","scale":{"domain":[-0.0003,0.0468]},"axis":{"values":[0,0.01,0.02,0.03,0.04],"tickCount":20,"format":".2f","labelOverlap":false,"title":["dΣ_BSσ\u00a0\u00a0\u00a0\u00a0\u00a0\u00a0\u00a0\u00a0\u00a0\u00a0\u00a0nb","dx_B dQ² d|t| dφ\u00a0\u00a0\u00a0GeV⁴"]}},"color":{"datum":"LT_KM","scale":{"domain":["Twist-6","Twist-4","LT_BMP","LT_KM"]}},"strokeDash":{"datum":"LT_KM","scale":{"domain":["Twist-6","Twist-4","LT_BMP","LT_KM"]}}}},
{"data":{"name":"curves"},"transform":[{"filter":"datum.p==7"}],"mark":{"type":"line","interpolate":"monotone","strokeWidth":2},"encoding":{"y":{"field":"t6","type":"quantitative","scale":{"domain":[-0.0003,0.0468]},"title":""},"color":{"datum":"Twist-6","scale":{"domain":["Twist-6","Twist-4","LT_BMP","LT_KM"]}},"strokeDash":{"datum":"Twist-6","scale":{"domain":["Twist-6","Twist-4","LT_BMP","LT_KM"]}}}},
{"data":{"name":"curves"},"transform":[{"filter":"datum.p==7"}],"mark":{"type":"line","interpolate":"monotone","strokeWidth":1.3},"encoding":{"y":{"field":"t6","type":"quantitative","scale":{"domain":[-0.0003,0.0468]},"title":""},"color":{"datum":"Twist-4","scale":{"domain":["Twist-6","Twist-4","LT_BMP","LT_KM"]}},"strokeDash":{"datum":"Twist-4","scale":{"domain":["Twist-6","Twist-4","LT_BMP","LT_KM"]}}}},
{"data":{"name":"curves"},"transform":[{"filter":"datum.p==7"}],"mark":{"type":"line","interpolate":"monotone","strokeWidth":1.4},"encoding":{"y":{"field":"bmp","type":"quantitative","scale":{"domain":[-0.0003,0.0468]},"title":""},"color":{"datum":"LT_BMP","scale":{"domain":["Twist-6","Twist-4","LT_BMP","LT_KM"]}},"strokeDash":{"datum":"LT_BMP","scale":{"domain":["Twist-6","Twist-4","LT_BMP","LT_KM"]}}}},
{"data":{"name":"pts"},"transform":[{"filter":"datum.p==7"}],"mark":{"type":"errorbar","ticks":{"size":3.5},"color":"#111","thickness":1,"clip":true},"encoding":{"y":{"field":"v","type":"quantitative","scale":{"domain":[-0.0003,0.0468]},"title":""},"yError":{"field":"e"}}},
{"data":{"name":"pts"},"transform":[{"filter":"datum.p==7"}],"mark":{"type":"square","color":"#000","size":8,"opacity":1},"encoding":{"y":{"field":"v","type":"quantitative","scale":{"domain":[-0.0003,0.0468]},"title":""}}}
]},
{"width":160,"height":102,"title":"x_B=0.50, −t=0.38 GeV², Q²=4.50 GeV²",
"encoding":{"x":{"field":"x","type":"quantitative","scale":{"domain":[0,6.2832]},"axis":{"values":[0,1.5708,3.1416,4.7124,6.2832],"labelExpr":"datum.value<0.1?'0':datum.value<2?['π','2']:datum.value<4?'π':datum.value<5?['3π','2']:'2π'","title":"φ[rad]","labelFlush":false,"labelOverlap":false}}},
"layer":[
{"data":{"name":"curves"},"transform":[{"filter":"datum.p==8"}],"mark":{"type":"line","interpolate":"monotone","strokeWidth":1.3},"encoding":{"y":{"field":"km","type":"quantitative","scale":{"domain":[0.00182,0.00484]},"axis":{"values":[0.002,0.0025,0.003,0.0035,0.004,0.0045],"tickCount":20,"format":".4f","labelOverlap":false,"title":["dΣ_BSσ\u00a0\u00a0\u00a0\u00a0\u00a0\u00a0\u00a0\u00a0\u00a0\u00a0\u00a0nb","dx_B dQ² d|t| dφ\u00a0\u00a0\u00a0GeV⁴"]}},"color":{"datum":"LT_KM","scale":{"domain":["Twist-6","Twist-4","LT_BMP","LT_KM"]}},"strokeDash":{"datum":"LT_KM","scale":{"domain":["Twist-6","Twist-4","LT_BMP","LT_KM"]}}}},
{"data":{"name":"curves"},"transform":[{"filter":"datum.p==8"}],"mark":{"type":"line","interpolate":"monotone","strokeWidth":2},"encoding":{"y":{"field":"t6","type":"quantitative","scale":{"domain":[0.00182,0.00484]},"title":""},"color":{"datum":"Twist-6","scale":{"domain":["Twist-6","Twist-4","LT_BMP","LT_KM"]}},"strokeDash":{"datum":"Twist-6","scale":{"domain":["Twist-6","Twist-4","LT_BMP","LT_KM"]}}}},
{"data":{"name":"curves"},"transform":[{"filter":"datum.p==8"}],"mark":{"type":"line","interpolate":"monotone","strokeWidth":1.3},"encoding":{"y":{"field":"t6","type":"quantitative","scale":{"domain":[0.00182,0.00484]},"title":""},"color":{"datum":"Twist-4","scale":{"domain":["Twist-6","Twist-4","LT_BMP","LT_KM"]}},"strokeDash":{"datum":"Twist-4","scale":{"domain":["Twist-6","Twist-4","LT_BMP","LT_KM"]}}}},
{"data":{"name":"curves"},"transform":[{"filter":"datum.p==8"}],"mark":{"type":"line","interpolate":"monotone","strokeWidth":1.4},"encoding":{"y":{"field":"bmp","type":"quantitative","scale":{"domain":[0.00182,0.00484]},"title":""},"color":{"datum":"LT_BMP","scale":{"domain":["Twist-6","Twist-4","LT_BMP","LT_KM"]}},"strokeDash":{"datum":"LT_BMP","scale":{"domain":["Twist-6","Twist-4","LT_BMP","LT_KM"]}}}},
{"data":{"name":"pts"},"transform":[{"filter":"datum.p==8"}],"mark":{"type":"errorbar","ticks":{"size":3.5},"color":"#111","thickness":1,"clip":true},"encoding":{"y":{"field":"v","type":"quantitative","scale":{"domain":[0.00182,0.00484]},"title":""},"yError":{"field":"e"}}},
{"data":{"name":"pts"},"transform":[{"filter":"datum.p==8"}],"mark":{"type":"square","color":"#000","size":8,"opacity":1},"encoding":{"y":{"field":"v","type":"quantitative","scale":{"domain":[0.00182,0.00484]},"title":""}}}
]}
],
"config":{
"font":"Liberation Sans",
"view":{"stroke":"#8a8a8a","strokeWidth":1},
"axis":{"labelFont":"Liberation Sans","labelFontSize":7,"labelColor":"#555","titleFont":"Liberation Sans","titleFontSize":7,"titleFontWeight":"normal","titleColor":"#555","domain":false,"grid":false,"tickColor":"#888","tickSize":3,"labelPadding":1.5,"labelOverlap":false},
"axisX":{"labelLineHeight":7,"titlePadding":1},
"axisY":{"titlePadding":2,"titleLineHeight":10},
"title":{"fontSize":6.3,"font":"Liberation Sans","fontWeight":"normal","color":"#222","offset":-14,"dx":9,"anchor":"middle"}
}
}
